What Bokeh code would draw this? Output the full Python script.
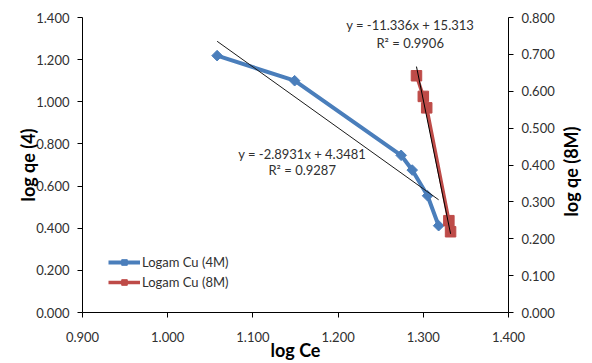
import math
from bokeh.plotting import figure
from bokeh.layouts import row
from bokeh.models import (Range1d, LinearAxis, FixedTicker, NumeralTickFormatter,
                          Legend, LegendItem, Label)
from bokeh.core.properties import value
from bokeh.embed import file_html
from bokeh.resources import INLINE

# ---- data ----
x_4m = [1.058, 1.149, 1.274, 1.287, 1.305, 1.318]
y_4m = [1.219, 1.100, 0.746, 0.676, 0.554, 0.412]
x_8m = [1.292, 1.300, 1.304, 1.330, 1.332]
y_8m = [0.642, 0.586, 0.555, 0.249, 0.219]

slope_4m, intercept_4m, r2_4m = -2.8931, 4.3481, 0.9287
slope_8m, intercept_8m, r2_8m = -11.336, 15.313, 0.9906

name_4m = "Logam Cu (4M)"
name_8m = "Logam Cu (8M)"

x_ticks = [0.9, 1.0, 1.1, 1.2, 1.3, 1.4]
y_left_ticks = [0.0, 0.2, 0.4, 0.6, 0.8, 1.0, 1.2, 1.4]
y_right_ticks = [0.0, 0.1, 0.2, 0.3, 0.4, 0.5, 0.6, 0.7, 0.8]

x_title = "log Ce"
y_left_title = "log qe (4)"
y_right_title = "log qe (8M)"

# ---- styles ----
FONT = "Lato"
TXT = "#303030"
BLUE = "#4A7EBB"
RED = "#BE4B48"
W, H = 592, 363
SIDE_W = 35          # strip holding the right-hand axis title

p = figure(width=W - SIDE_W, height=H,
           x_range=Range1d(x_ticks[0], x_ticks[-1]),
           y_range=Range1d(y_left_ticks[0], y_left_ticks[-1]),
           output_backend="svg", toolbar_location=None,
           min_border_left=82, min_border_right=48,
           min_border_top=17, min_border_bottom=49)
p.extra_y_ranges = {"right": Range1d(y_right_ticks[0], y_right_ticks[-1])}
p.outline_line_color = None
p.grid.visible = False
p.background_fill_color = "white"
p.border_fill_color = "white"

right_axis = LinearAxis(y_range_name="right")
p.add_layout(right_axis, "right")

def style_axis(ax, ticks, title, title_standoff, label_standoff):
    ax.ticker = FixedTicker(ticks=ticks)
    ax.formatter = NumeralTickFormatter(format="0.000")
    ax.axis_line_color = "black"
    ax.axis_line_width = 1
    ax.major_tick_line_color = "black"
    ax.major_tick_in = 0
    ax.major_tick_out = 5
    ax.minor_tick_line_color = None
    ax.major_label_text_font = FONT
    ax.major_label_text_font_size = "13px"
    ax.major_label_text_color = TXT
    ax.major_label_standoff = label_standoff
    ax.axis_label = title
    ax.axis_label_text_font = FONT
    ax.axis_label_text_font_size = "18px"
    ax.axis_label_text_font_style = "bold"
    ax.axis_label_text_color = "black"
    ax.axis_label_standoff = title_standoff

style_axis(p.xaxis[0], x_ticks, x_title, -6, 14)
style_axis(p.yaxis[0], y_left_ticks, y_left_title, -6, 8)
style_axis(right_axis, y_right_ticks, None, 0, 8)

# series
l4 = p.line(x_4m, y_4m, line_color=BLUE, line_width=4)
m4 = p.scatter(x_4m, y_4m, marker="square", angle=math.pi / 4, size=7.5,
               fill_color=BLUE, line_color=BLUE)
l8 = p.line(x_8m, y_8m, line_color=RED, line_width=3.5, y_range_name="right")
m8 = p.scatter(x_8m, y_8m, marker="square", size=10.5,
               fill_color=RED, line_color=RED, y_range_name="right")

# linear trendlines over the data extent
tx4 = [min(x_4m), max(x_4m)]
p.line(tx4, [slope_4m * v + intercept_4m for v in tx4], line_color="#1a1a1a", line_width=1)
tx8 = [min(x_8m), max(x_8m)]
p.line(tx8, [slope_8m * v + intercept_8m for v in tx8], line_color="black", line_width=1,
       y_range_name="right")

def eq_text(s, b):
    return f"y = {s:.5g}x + {b:.5g}"

for (tx, ty1, ty2, s, b, r2) in [(219.7, 158.3, 142.3, slope_4m, intercept_4m, r2_4m),
                                  (327.7, 288, 270, slope_8m, intercept_8m, r2_8m)]:
    p.add_layout(Label(x=tx, y=ty1, x_units="screen", y_units="screen",
                       text=eq_text(s, b), text_font=FONT, text_font_size="13px",
                       text_color=TXT, text_align="center", text_baseline="middle"))
    p.add_layout(Label(x=tx, y=ty2, x_units="screen", y_units="screen",
                       text=f"R\u00b2 = {r2:.4f}", text_font=FONT, text_font_size="13px",
                       text_color=TXT, text_align="center", text_baseline="middle"))

legend = Legend(items=[LegendItem(label=name_4m, renderers=[l4, m4]),
                       LegendItem(label=name_8m, renderers=[l8, m8])],
                location=(26, 22), padding=0, margin=0, spacing=4,
                glyph_width=32, glyph_height=14, label_height=14,
                label_standoff=2, border_line_color=None,
                background_fill_alpha=0,
                label_text_font=FONT, label_text_font_size="13px",
                label_text_color=TXT)
p.add_layout(legend)

# narrow strip on the right carrying the secondary axis title (reads bottom-to-top)
side = figure(width=SIDE_W, height=H, x_range=Range1d(0, SIDE_W), y_range=Range1d(0, H),
              output_backend="svg", toolbar_location=None,
              x_axis_type=None, y_axis_type=None,
              min_border_left=0, min_border_right=0, min_border_top=0, min_border_bottom=0)
side.outline_line_color = None
side.grid.visible = False
side.background_fill_color = "white"
side.border_fill_color = "white"
side.text(x=[13], y=[H - 245], text=[y_right_title], angle=math.pi / 2,
          text_font=value(FONT), text_font_size="18px", text_font_style="bold",
          text_color="black", text_align="left", text_baseline="middle")

layout = row(p, side, spacing=0)
open("out.html", "w").write(file_html(layout, INLINE))
